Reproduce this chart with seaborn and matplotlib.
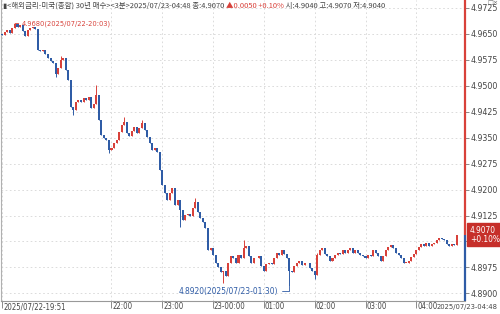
import matplotlib
matplotlib.use("Agg")
import matplotlib.pyplot as plt
import matplotlib.dates as mdates
from matplotlib.transforms import ScaledTranslation
import numpy as np
import pandas as pd
import seaborn as sns

# ---------------- data ----------------
start_time = "2025-07-22 19:51"
interval_min = 3
first_open = 4.9650
closes = [
    4.9647, 4.9656, 4.9661, 4.9653, 4.9667, 4.9679, 4.9670, 4.9676, 4.9658, 4.9644,
    4.9661, 4.9667, 4.9670, 4.9664, 4.9603, 4.9601, 4.9603, 4.9592, 4.9580, 4.9572,
    4.9566, 4.9534, 4.9551, 4.9574, 4.9580, 4.9546, 4.9517, 4.9438, 4.9430, 4.9453,
    4.9459, 4.9453, 4.9464, 4.9459, 4.9467, 4.9435, 4.9447, 4.9473, 4.9401, 4.9357,
    4.9349, 4.9343, 4.9314, 4.9320, 4.9334, 4.9343, 4.9366, 4.9386, 4.9395, 4.9363,
    4.9354, 4.9369, 4.9380, 4.9363, 4.9377, 4.9392, 4.9372, 4.9351, 4.9334, 4.9314,
    4.9320, 4.9308, 4.9256, 4.9212, 4.9189, 4.9169, 4.9189, 4.9204, 4.9155, 4.9169,
    4.9140, 4.9111, 4.9126, 4.9129, 4.9123, 4.9146, 4.9163, 4.9134, 4.9117, 4.9105,
    4.9088, 4.9024, 4.9030, 4.9010, 4.8989, 4.8975, 4.8961, 4.8966, 4.8949, 4.8989,
    4.9007, 4.9001, 4.8989, 4.9010, 4.9001, 4.9030, 4.9036, 4.9007, 4.8989, 4.9001,
    4.9001, 4.9007, 4.8978, 4.8966, 4.8984, 4.8989, 4.8984, 4.9001, 4.9016, 4.9010,
    4.9024, 4.9013, 4.9001, 4.8966, 4.8961, 4.8978, 4.8989, 4.8995, 4.8981, 4.8989,
    4.8987, 4.8972, 4.8966, 4.8952, 4.9010, 4.9024, 4.9030, 4.9013, 4.9007, 4.8995,
    4.9001, 4.9010, 4.9018, 4.9013, 4.9024, 4.9016, 4.9024, 4.9030, 4.9018, 4.9024,
    4.9018, 4.9010, 4.9007, 4.9001, 4.9010, 4.9007, 4.9024, 4.9016, 4.9007, 4.8995,
    4.9007, 4.9024, 4.9033, 4.9039, 4.9030, 4.9018, 4.9010, 4.9001, 4.8989, 4.8989,
    4.8995, 4.9004, 4.9013, 4.9024, 4.9033, 4.9042, 4.9036, 4.9045, 4.9036, 4.9042,
    4.9047, 4.9053, 4.9059, 4.9056, 4.9053, 4.9042, 4.9036, 4.9042, 4.9040, 4.9070,
]
# notable wicks (index -> value)
high_wicks = {5: 4.9680, 23: 4.9586, 37: 4.9502, 48: 4.9409, 55: 4.9401, 76: 4.9175,
              95: 4.9053, 124: 4.9018}
low_wicks = {21: 4.9525, 28: 4.9415, 42: 4.9305, 70: 4.9091, 87: 4.8931, 113: 4.8920,
             123: 4.8943}
max_index, max_label = 5, "4.9680(2025/07/22-20:03)"
min_index, min_label = 113, "4.8920(2025/07/23-01:30)"
prev_close = 4.9020
y_ticks = [4.8900, 4.8975, 4.9050, 4.9125, 4.9200, 4.9275, 4.9350, 4.9425,
           4.9500, 4.9575, 4.9650, 4.9725]
hour_ticks = ["2025-07-22 22:00", "2025-07-22 23:00", "2025-07-23 00:00", "2025-07-23 01:00",
              "2025-07-23 02:00", "2025-07-23 03:00", "2025-07-23 04:00"]
hour_labels = ["22:00", "23:00", "23-00:00", "01:00", "02:00", "03:00", "04:00"]
first_label = "2025/07/22-19:51"
last_label = "2025/07/23-04:48"
title_left = "▮<해외금리-미국(종합) 30년 매수><3분>2025/07/23-04:48 종:"

# ---------------- derived table ----------------
times = pd.date_range(start_time, periods=len(closes), freq=f"{interval_min}min")
opens = [first_open] + closes[:-1]
df = pd.DataFrame({"time": times, "open": opens, "close": closes})
df["high"] = [high_wicks.get(i, max(o, c)) for i, (o, c) in enumerate(zip(opens, closes))]
df["low"] = [low_wicks.get(i, min(o, c)) for i, (o, c) in enumerate(zip(opens, closes))]
df["up"] = df["close"] >= df["open"]

RED = "#d8413a"
BLUE = "#2f5ca6"
GRAY = "#444444"
COND = dict(family=["DejaVu Sans"], fontstretch="condensed")

sns.set_theme(style="white")
plt.rcParams["font.family"] = ["Noto Sans CJK KR", "DejaVu Sans"]

fig = plt.figure(figsize=(5, 3.14), dpi=100)
ax = fig.add_axes([0.002, 13 / 314, 464 / 500, 301 / 314])

x = mdates.date2num(df["time"])
step = interval_min / 1440.0
width = step * 0.8
colors = np.where(df["up"], RED, BLUE)
body_bottom = np.minimum(df["open"], df["close"])
body_h = np.maximum(np.abs(df["close"] - df["open"]), 0.00012)
ax.vlines(x, df["low"], df["high"], colors=colors, linewidth=0.7, zorder=3)
ax.bar(x, body_h, bottom=body_bottom, width=width, color=colors, linewidth=0, zorder=4)

# limits
x0 = mdates.date2num(pd.Timestamp(start_time)) - 1.5 / 1440
x1 = x[-1] + 9.5 / 1440
ax.set_xlim(x0, x1)
ax.set_ylim(4.8878, 4.9748)

# y axis on right
ax.yaxis.tick_right()
ax.set_yticks(y_ticks)
ax.set_yticklabels([f"{v:.4f}" for v in y_ticks], **COND)
ax.tick_params(axis="y", which="both", right=True, length=3, width=0.6, color="#777777",
               labelsize=6.3, labelcolor=GRAY, pad=1)

# x axis
xt = [mdates.date2num(pd.Timestamp(start_time))] + [mdates.date2num(pd.Timestamp(t)) for t in hour_ticks]
ax.set_xticks(xt)
ax.set_xticklabels([first_label] + hour_labels, **COND)
ax.tick_params(axis="x", bottom=True, length=5, width=0.6, color="#777777",
               labelsize=5.6, labelcolor=GRAY, pad=-4)
offset = ScaledTranslation(0.8 / 100, 0, fig.dpi_scale_trans)
for lbl in ax.get_xticklabels():
    lbl.set_horizontalalignment("left")
    lbl.set_transform(lbl.get_transform() + offset)

# grids
ax.grid(axis="y", color="#d6d6d6", linestyle=(0, (2, 3)), linewidth=0.6)
ax.grid(axis="x", color="#d6d6d6", linestyle=(0, (2, 3)), linewidth=0.6)

# spines
for s in ["top", "right"]:
    ax.spines[s].set_visible(False)
ax.spines["left"].set_color("#b0b0b0")
ax.spines["left"].set_linewidth(0.8)
ax.spines["bottom"].set_color("#999999")
ax.spines["bottom"].set_linewidth(0.8)

# right axis coloured by current price
last = closes[-1]
ax.plot([1, 1], [last, 4.9748], transform=ax.get_yaxis_transform(), color=RED, lw=1.6,
        clip_on=False, zorder=6, solid_capstyle="butt")
ax.plot([1, 1], [4.8878, last], transform=ax.get_yaxis_transform(), color=BLUE, lw=1.6,
        clip_on=False, zorder=6, solid_capstyle="butt")

# max / min annotations
ax.annotate(max_label, xy=(x[max_index], df["high"][max_index]), xytext=(7, 0),
            textcoords="offset pixels", ha="left", va="center", fontsize=5.3, color=RED,
            arrowprops=dict(arrowstyle="-", color=RED, lw=0.6, shrinkA=0, shrinkB=0),
            zorder=7, **COND)
ax.annotate(min_label, xy=(x[min_index], df["low"][min_index]), xytext=(-11, -5),
            textcoords="offset pixels", ha="right", va="center", fontsize=6, color=BLUE,
            arrowprops=dict(arrowstyle="-", color=BLUE, lw=0.6, shrinkA=0, shrinkB=0,
                            connectionstyle="angle,angleA=0,angleB=90,rad=0"),
            zorder=7, **COND)

# title line
change = last - prev_close
pct = change / prev_close * 100
t1 = ax.text(0.004, 0.994, f"{title_left}{last:.4f} ", transform=ax.transAxes,
             ha="left", va="top", fontsize=5.4, color=GRAY)
t2 = ax.annotate(f"▲{change:.4f} +{pct:.2f}%", xy=(1, 0), xycoords=t1, ha="left", va="bottom",
                 fontsize=5.4, color=RED)
t3 = ax.annotate(f" 시:{opens[-1]:.4f} 고:{df['high'].iloc[-1]:.4f} 저:{df['low'].iloc[-1]:.4f}",
                 xy=(1, 0), xycoords=t2, ha="left", va="bottom", fontsize=5.4, color=GRAY)

# current price tag
ax.annotate(f"{last:.4f}\n+{pct:.2f}%", xy=(1, last), xycoords=("axes fraction", "data"),
            xytext=(5, 0), textcoords="offset pixels", ha="left", va="center",
            fontsize=6, color="white", linespacing=1.0,
            bbox=dict(boxstyle="square,pad=0.35", fc="#c62f2a", ec="#c62f2a"),
            annotation_clip=False, zorder=20, **COND)

# last time label at bottom right
ax.annotate(last_label, xy=(1, 0), xycoords="axes fraction", xytext=(33, -6),
            textcoords="offset pixels", ha="right", va="center", fontsize=5.4, color=GRAY,
            annotation_clip=False, **COND)
fig.text(0.998, 0.999, "□×", ha="right", va="top", fontsize=4.5, color="#666666",
         family=["DejaVu Sans"])

fig.savefig("out.png", dpi=100, facecolor="white")
